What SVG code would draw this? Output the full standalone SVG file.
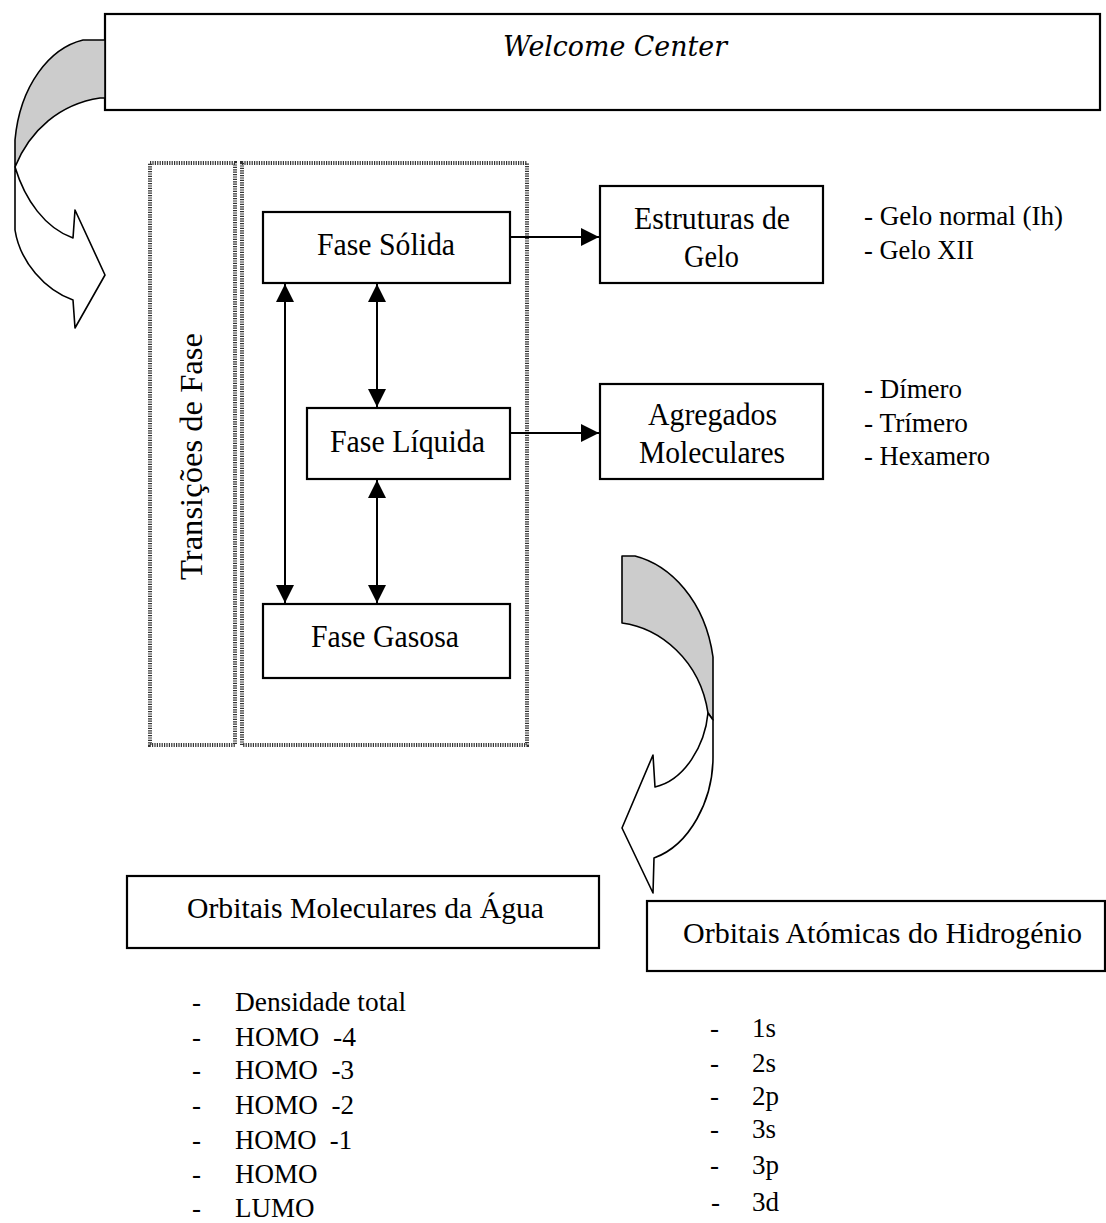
<svg xmlns="http://www.w3.org/2000/svg" width="1106" height="1223" viewBox="0 0 1106 1223">
<style>
.box{fill:#fff;stroke:#000;stroke-width:2.2}
.dot{fill:none;stroke:#333;stroke-width:4;stroke-dasharray:1.2 1.2}
.t{font-family:"Liberation Serif","Times New Roman",serif;fill:#000}
.lbl{font-size:31px}
.lst{font-size:28px}
.bl{font-size:27px}
.con{stroke:#000;stroke-width:2;fill:none}
.ca{fill:#fff;stroke:#000;stroke-width:1.6;stroke-linejoin:round}
.cg{fill:#cccccc;stroke:#000;stroke-width:1.6;stroke-linejoin:round}
</style>
<defs>
<marker id="ah" markerUnits="userSpaceOnUse" markerWidth="20" markerHeight="20" refX="18" refY="9" orient="auto-start-reverse" viewBox="0 0 20 18">
<path d="M0,0 L18,9 L0,18 Z" fill="#000"/>
</marker>
</defs>
<rect width="1106" height="1223" fill="#fff"/>

<g id="welcome">
<rect class="box" x="105" y="14" width="995" height="96"/>
<text x="503" y="56" font-family="'DejaVu Serif','Liberation Serif',serif" font-size="28" font-style="italic" textLength="224" lengthAdjust="spacingAndGlyphs">Welcome Center</text>
</g>

<g id="curve-left">
<path class="cg" d="M105,40 L83,40 C50,48 20,85 15,140 L15,167 C30,130 60,104 100,98 L105,98 Z"/>
<path class="ca" d="M15,167 L15,230 C20,262 45,290 73,300 L75,328 L105,275 L75,210 L73,238 C45,228 25,200 15,167 Z"/>
</g>

<g id="transicoes">
<rect class="dot" x="150" y="163" width="85" height="582"/>
<text class="t lbl" transform="translate(202,580) rotate(-90)" textLength="247" lengthAdjust="spacingAndGlyphs">Transições de Fase</text>
</g>
<g id="fases-frame">
<rect class="dot" x="242" y="163" width="285" height="582"/>
</g>

<g id="solida">
<rect class="box" x="263" y="212" width="247" height="71"/>
<text class="t lbl" x="317" y="255" textLength="138" lengthAdjust="spacingAndGlyphs">Fase Sólida</text>
</g>
<g id="liquida">
<rect class="box" x="307" y="408" width="203" height="71"/>
<text class="t lbl" x="330" y="452" textLength="155" lengthAdjust="spacingAndGlyphs">Fase Líquida</text>
</g>
<g id="gasosa">
<rect class="box" x="263" y="604" width="247" height="74"/>
<text class="t lbl" x="311" y="647" textLength="148" lengthAdjust="spacingAndGlyphs">Fase Gasosa</text>
</g>

<g id="estruturas">
<rect class="box" x="600" y="186" width="223" height="97"/>
<text class="t lbl" x="634" y="229" textLength="156" lengthAdjust="spacingAndGlyphs">Estruturas de</text>
<text class="t lbl" x="684" y="267" textLength="55" lengthAdjust="spacingAndGlyphs">Gelo</text>
</g>
<g id="gelo-list">
<text class="t lst" x="864" y="225" textLength="199" lengthAdjust="spacingAndGlyphs">- Gelo normal (Ih)</text>
<text class="t lst" x="864" y="259" textLength="110" lengthAdjust="spacingAndGlyphs">- Gelo XII</text>
</g>

<g id="agregados">
<rect class="box" x="600" y="384" width="223" height="95"/>
<text class="t lbl" x="648" y="425" textLength="129" lengthAdjust="spacingAndGlyphs">Agregados</text>
<text class="t lbl" x="639" y="463" textLength="146" lengthAdjust="spacingAndGlyphs">Moleculares</text>
</g>
<g id="agregados-list">
<text class="t lst" x="864" y="398" textLength="98" lengthAdjust="spacingAndGlyphs">- Dímero</text>
<text class="t lst" x="864" y="432" textLength="104" lengthAdjust="spacingAndGlyphs">- Trímero</text>
<text class="t lst" x="864" y="465" textLength="126" lengthAdjust="spacingAndGlyphs">- Hexamero</text>
</g>

<g id="connectors">
<line class="con" x1="285" y1="284" x2="285" y2="603" marker-start="url(#ah)" marker-end="url(#ah)"/>
<line class="con" x1="377" y1="284" x2="377" y2="407" marker-start="url(#ah)" marker-end="url(#ah)"/>
<line class="con" x1="377" y1="480" x2="377" y2="603" marker-start="url(#ah)" marker-end="url(#ah)"/>
<line class="con" x1="510" y1="237" x2="599" y2="237" marker-end="url(#ah)"/>
<line class="con" x1="510" y1="433" x2="599" y2="433" marker-end="url(#ah)"/>
</g>

<g id="curve-right">
<path class="cg" d="M622,556 L635,556 C670,565 705,600 713,657 L713,720 L708,713 C700,660 660,628 622,623 Z"/>
<path class="ca" d="M708,713 C705,745 685,780 655,787 L653,755 L622,828 L653,893 L654,858 C690,845 713,800 713,757 L713,720 Z"/>
</g>

<g id="orbitais-moleculares">
<rect class="box" x="127" y="876" width="472" height="72"/>
<text class="t" x="187" y="918" font-size="30" textLength="357" lengthAdjust="spacingAndGlyphs">Orbitais Moleculares da Água</text>
</g>
<g id="om-list">
<text class="t bl" x="192" y="1011">-</text><text class="t bl" x="235" y="1011" textLength="171" lengthAdjust="spacingAndGlyphs">Densidade total</text>
<text class="t bl" x="192" y="1046">-</text><text class="t bl" x="235" y="1046" textLength="121" lengthAdjust="spacingAndGlyphs">HOMO&#160; -4</text>
<text class="t bl" x="192" y="1079">-</text><text class="t bl" x="235" y="1079" textLength="119" lengthAdjust="spacingAndGlyphs">HOMO&#160; -3</text>
<text class="t bl" x="192" y="1114">-</text><text class="t bl" x="235" y="1114" textLength="119" lengthAdjust="spacingAndGlyphs">HOMO&#160; -2</text>
<text class="t bl" x="192" y="1149">-</text><text class="t bl" x="235" y="1149" textLength="117" lengthAdjust="spacingAndGlyphs">HOMO&#160; -1</text>
<text class="t bl" x="192" y="1183">-</text><text class="t bl" x="235" y="1183">HOMO</text>
<text class="t bl" x="192" y="1217">-</text><text class="t bl" x="235" y="1217">LUMO</text>
</g>

<g id="orbitais-atomicas">
<rect class="box" x="647" y="901" width="458" height="70"/>
<text class="t" x="683" y="943" font-size="30" textLength="399" lengthAdjust="spacingAndGlyphs">Orbitais Atómicas do Hidrogénio</text>
</g>
<g id="oa-list">
<text class="t bl" x="710" y="1037">-</text><text class="t bl" x="752" y="1037">1s</text>
<text class="t bl" x="710" y="1072">-</text><text class="t bl" x="752" y="1072">2s</text>
<text class="t bl" x="710" y="1105">-</text><text class="t bl" x="752" y="1105">2p</text>
<text class="t bl" x="710" y="1138">-</text><text class="t bl" x="752" y="1138">3s</text>
<text class="t bl" x="710" y="1174">-</text><text class="t bl" x="752" y="1174">3p</text>
<text class="t bl" x="711" y="1211">-</text><text class="t bl" x="752" y="1211">3d</text>
</g>
</svg>
